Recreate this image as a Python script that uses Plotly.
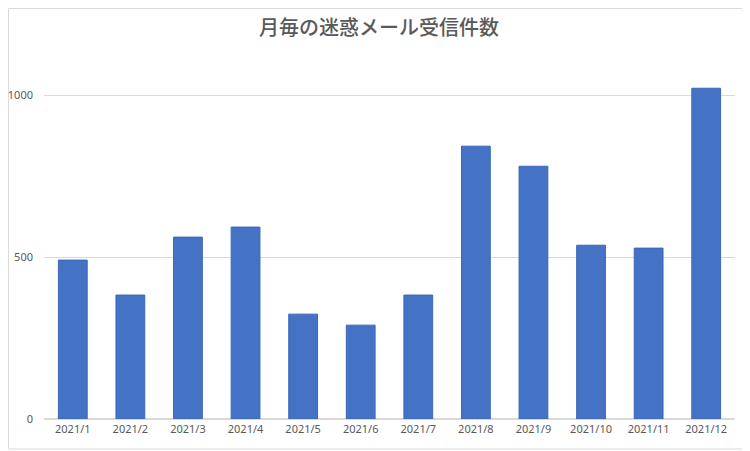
import plotly.graph_objects as go

months = ["2021/1", "2021/2", "2021/3", "2021/4", "2021/5", "2021/6",
          "2021/7", "2021/8", "2021/9", "2021/10", "2021/11", "2021/12"]
counts = [491, 383, 562, 593, 324, 290, 383, 843, 781, 537, 528, 1022]
y_ticks = [0, 500, 1000]

fig = go.Figure()
fig.add_trace(go.Bar(
    x=months, y=counts,
    marker=dict(color="#4472c4", line=dict(color="#3d67b8", width=1)),
    hoverinfo="x+y"))

# thin grey frame around the whole chart
fig.add_shape(type="rect", xref="paper", yref="paper",
              x0=-0.0514, x1=1.0188, y0=-0.0843, y1=1.153,
              line=dict(color="#d9d9d9", width=1), layer="below")

# page body adds an 8px offset, so the figure is 8px smaller than the window
fig.update_layout(
    width=742, height=443,
    margin=dict(l=36, r=15, t=55, b=32),
    paper_bgcolor="white", plot_bgcolor="white",
    bargap=0.5,
    showlegend=False,
    title=dict(text="月毎の迷惑メール受信件数", x=0.5, xanchor="center",
               y=0.955, yanchor="middle",
               font=dict(family="Noto Sans CJK JP", size=20, color="#595959",
                         weight=500)),
    font=dict(family="Noto Sans", size=11, color="#595959"),
    xaxis=dict(showgrid=False, ticks="", showline=True, linecolor="#d9d9d9",
               automargin=False, tickfont=dict(size=11, color="#595959")),
    yaxis=dict(range=[0, 1100], tickvals=y_ticks, showgrid=True,
               gridcolor="#d9d9d9", zeroline=True, zerolinecolor="#d9d9d9",
               ticks="", ticklabelstandoff=10, automargin=False,
               tickfont=dict(size=11, color="#595959")),
)

fig.write_html("out.html")
